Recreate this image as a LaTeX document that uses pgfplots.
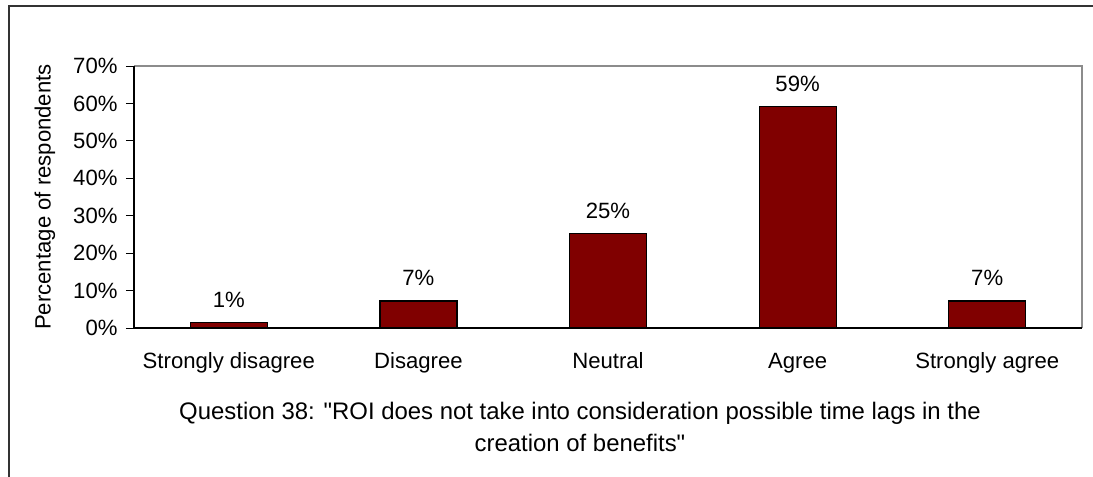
\documentclass[border=0pt]{standalone}
\usepackage{pgfplots}
\pgfplotsset{compat=1.18}
\usepackage{fontspec}
\setmainfont{Liberation Sans}
\newfontfamily\plainsans{Liberation Sans}
\definecolor{barred}{HTML}{800000}
\begin{document}
\begin{tikzpicture}[x=1bp,y=1bp]
\path[use as bounding box] (0,0) rectangle (1093,477);
\draw[line width=2bp,black!80] (9,0) -- (9,471) -- (1093,471);
\begin{axis}[
  at={(134bp,149bp)}, anchor=south west,
  scale only axis, width=948bp, height=262bp,
  xmin=-0.5, xmax=4.5, ymin=0, ymax=70,
  axis line style={draw=none},
  ytick={0,10,...,70},
  yticklabel={\pgfmathprintnumber{\tick}\%},
  /pgf/number format/assume math mode=true,
  tick style={black, line width=0.8bp},
  ytick pos=left, xtick pos=bottom,
  tick align=outside,
  major tick length=8bp,
  xtick={0,1,2,3,4},
  xticklabels={Strongly disagree,Disagree,Neutral,Agree,Strongly agree},
  x tick style={draw=none},
  extra x ticks={-0.5,0.5,1.5,2.5,3.5,4.5},
  extra x tick labels={},
  extra x tick style={tick style={black,line width=0.8bp}, major tick length=7bp},
  ticklabel style={font=\fontsize{22.2}{26}\selectfont},
  yticklabel style={xshift=-5bp},
  xticklabel style={yshift=-13bp, text height=16bp, text depth=5bp},
  ylabel={Percentage of respondents},
  every axis y label/.style={at={(rel axis cs:0,0.5)}, rotate=90, anchor=center, yshift=89bp, font=\fontsize{22.2}{26}\selectfont},
  ybar, bar width=77bp,
  nodes near coords={\pgfmathprintnumber{\pgfplotspointmeta}\%},
  point meta=explicit,
  every node near coord/.append style={font=\fontsize{22.2}{26}\selectfont, black, anchor=south, yshift=11bp},
  clip=false,
]
\draw[gray!90, line width=1.5bp] (axis cs:-0.5,70) -- (axis cs:4.5,70) -- (axis cs:4.5,0);
\addplot[fill=barred, draw=black, line width=1.2bp] coordinates {
  (0,1.4) [1]
  (1,7.2) [7]
  (2,25.2) [25]
  (3,59.2) [59]
  (4,7.2) [7]
};
\draw[black, line width=1.2bp] (axis cs:-0.5,0) -- (axis cs:-0.5,70);
\draw[black, line width=1.2bp] (axis cs:-0.5,0) -- (axis cs:4.5,0);
\end{axis}
\node[align=center, font=\plainsans\fontsize{24}{32}\selectfont, anchor=center] at (580,50) {Question 38: "ROI does not take into consideration possible time lags in the\\creation of benefits"};
\end{tikzpicture}
\end{document}
